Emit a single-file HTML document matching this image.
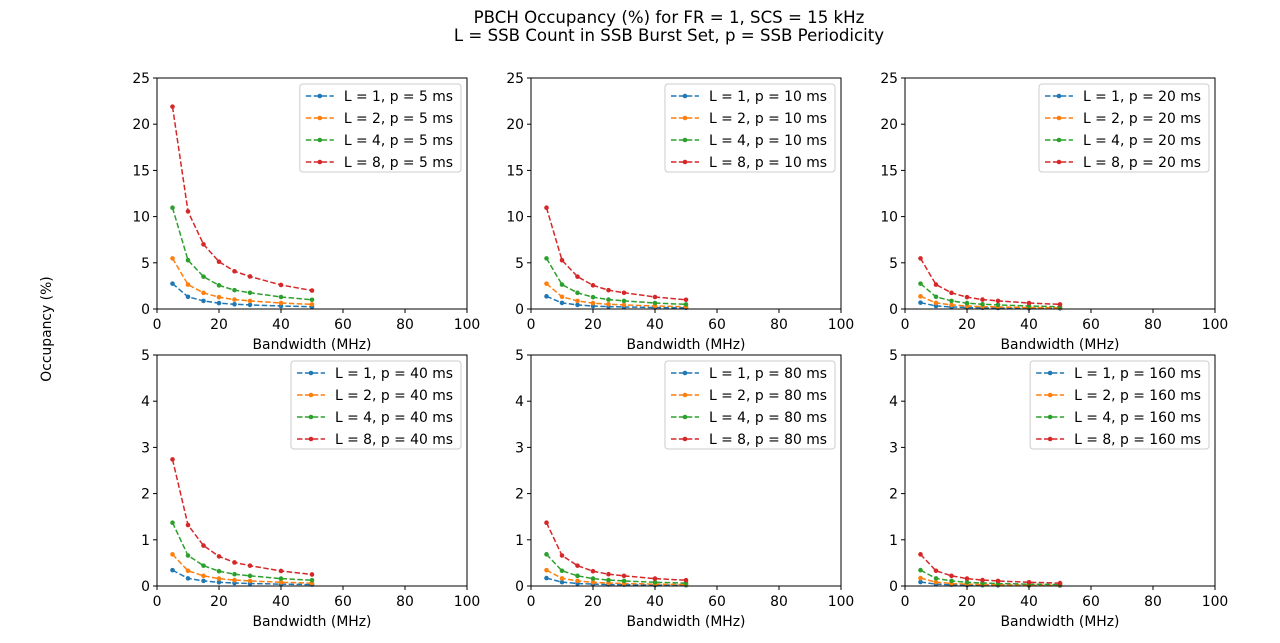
<!DOCTYPE html>
<html><head><meta charset="utf-8">
<style>
html,body{margin:0;padding:0;background:#fff;}
svg{display:block;font-family:"DejaVu Sans","Liberation Sans",sans-serif;}
</style></head>
<body>
<svg id="fig" width="1280" height="643" viewBox="0 0 1280 643">
<text x="669" y="23" font-size="16.6" text-anchor="middle">PBCH Occupancy (%) for FR = 1, SCS = 15 kHz</text>
<text x="669" y="41" font-size="16.6" text-anchor="middle">L = SSB Count in SSB Burst Set, p = SSB Periodicity</text>
<text x="0" y="0" font-size="13.9" text-anchor="middle" transform="translate(51,329) rotate(-90)">Occupancy (%)</text>
</svg>
<script>
const bandwidths = [5,10,15,20,25,30,40,50];
const periods = [5,10,20,40,80,160];
const ssbCounts = [1,2,4,8];
const colors = ['#1f77b4','#ff7f0e','#2ca02c','#d62728'];
const p5 = [
 [2.74,1.32,0.875,0.64,0.51,0.44,0.325,0.25],
 [5.48,2.64,1.75,1.28,1.02,0.88,0.65,0.5],
 [10.96,5.28,3.5,2.56,2.04,1.76,1.3,1.0],
 [21.9,10.56,7.0,5.12,4.08,3.52,2.6,2.0]];
const p10 = [
 [1.37,0.66,0.44,0.32,0.255,0.22,0.16,0.125],
 [2.74,1.32,0.875,0.64,0.51,0.44,0.325,0.25],
 [5.48,2.64,1.75,1.28,1.02,0.88,0.65,0.5],
 [10.96,5.28,3.5,2.56,2.04,1.76,1.3,1.0]];
const p20 = [
 [0.685,0.33,0.22,0.16,0.128,0.11,0.08,0.063],
 [1.37,0.66,0.44,0.32,0.255,0.22,0.16,0.125],
 [2.74,1.32,0.875,0.64,0.51,0.44,0.325,0.25],
 [5.48,2.64,1.75,1.28,1.02,0.88,0.65,0.5]];
const p40 = [
 [0.343,0.165,0.11,0.08,0.064,0.055,0.04,0.031],
 [0.685,0.33,0.22,0.16,0.128,0.11,0.08,0.063],
 [1.37,0.66,0.44,0.32,0.255,0.22,0.16,0.125],
 [2.74,1.32,0.875,0.64,0.51,0.44,0.325,0.25]];
const p80 = [
 [0.171,0.083,0.055,0.04,0.032,0.028,0.02,0.016],
 [0.343,0.165,0.11,0.08,0.064,0.055,0.04,0.031],
 [0.685,0.33,0.22,0.16,0.128,0.11,0.08,0.063],
 [1.37,0.66,0.44,0.32,0.255,0.22,0.16,0.125]];
const p160 = [
 [0.086,0.041,0.027,0.02,0.016,0.014,0.01,0.008],
 [0.171,0.083,0.055,0.04,0.032,0.028,0.02,0.016],
 [0.343,0.165,0.11,0.08,0.064,0.055,0.04,0.031],
 [0.685,0.33,0.22,0.16,0.128,0.11,0.08,0.063]];
const panelData = [p5,p10,p20,p40,p80,p160];
const xTicks = [0,20,40,60,80,100];
const yTicksTop = [0,5,10,15,20,25];
const yTicksBottom = [0,1,2,3,4,5];

const NS='http://www.w3.org/2000/svg';
const fig=document.getElementById('fig');
function mk(tag,attrs,parent){const e=document.createElementNS(NS,tag);for(const k in attrs)e.setAttribute(k,attrs[k]);(parent||fig).appendChild(e);return e;}
const colX=[157,531,905], rowY=[78,355], W=310, H=231;

panelData.forEach((data,i)=>{
  const col=i%3,row=Math.floor(i/3);
  const x0=colX[col],y0=rowY[row];
  const yMax=row===0?25:5;
  const yTicks=row===0?yTicksTop:yTicksBottom;
  const sx=v=>x0+v/100*W, sy=v=>y0+H-v/yMax*H;
  const g=mk('g',{});
  
  
  data.forEach((vals,s)=>{
    const pts=bandwidths.map((b,k)=>sx(b).toFixed(2)+','+sy(vals[k]).toFixed(2)).join(' ');
    const pl=mk('polyline',{points:pts,fill:'none',stroke:colors[s],'stroke-width':1.5,'stroke-dasharray':'5.5,2.4'},g);
    
    
    bandwidths.forEach((b,k)=>{
      const c=mk('circle',{cx:sx(b),cy:sy(vals[k]),r:2.3,fill:colors[s]},g);
      
      
    });
  });
  const fr=mk('rect',{x:x0,y:y0,width:W,height:H,fill:'none',stroke:'#000','stroke-width':1},g);
  
  
  xTicks.forEach(t=>{
    mk('line',{x1:sx(t),x2:sx(t),y1:y0+H,y2:y0+H+4,stroke:'#000','stroke-width':1},g);
    const tx=mk('text',{x:sx(t),y:y0+H+20,'font-size':13.9,'text-anchor':'middle'},g);
    tx.textContent=t;
    
    
  });
  yTicks.forEach(t=>{
    mk('line',{x1:x0-4,x2:x0,y1:sy(t),y2:sy(t),stroke:'#000','stroke-width':1},g);
    const tx=mk('text',{x:x0-7,y:sy(t)+5,'font-size':13.9,'text-anchor':'end'},g);
    tx.textContent=t;
    
    
  });
  const xl=mk('text',{x:x0+W/2,y:y0+H+40,'font-size':13.9,'text-anchor':'middle'},g);
  xl.textContent='Bandwidth (MHz)';
  
  
  const lg=mk('g',{},g);
  
  
  const box=mk('rect',{y:y0+6,height:88,rx:3,fill:'#fff','fill-opacity':0.8,stroke:'#ccc','stroke-width':1},lg);
  let maxW=0;const items=[];
  ssbCounts.forEach((L,s)=>{
    const t=mk('text',{y:y0+6+17+s*22,'font-size':13.9},lg);
    t.textContent='L = '+L+', p = '+periods[i]+' ms';
    
    
    maxW=Math.max(maxW,t.getComputedTextLength());items.push(t);
  });
  const bw=maxW+52, bx=x0+W-6-bw;
  box.setAttribute('x',bx);box.setAttribute('width',bw);
  items.forEach((t,s)=>{
    t.setAttribute('x',bx+44);
    const yy=y0+6+12+s*22;
    mk('line',{x1:bx+6,x2:bx+34,y1:yy,y2:yy,stroke:colors[s],'stroke-width':1.5,'stroke-dasharray':'5.5,2.4'},lg);
    mk('circle',{cx:bx+20,cy:yy,r:2.3,fill:colors[s]},lg);
  });
});
</script>
</body></html>
